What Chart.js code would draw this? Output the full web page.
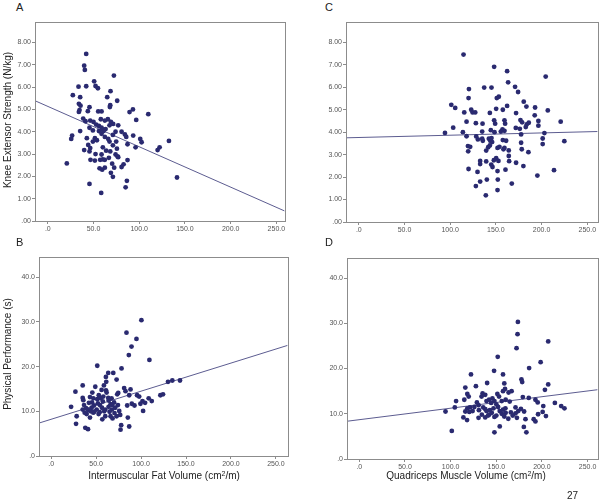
<!DOCTYPE html>
<html>
<head>
<meta charset="utf-8">
<script src="https://cdn.jsdelivr.net/npm/chart.js@4"></script>
<style>
  body { margin: 0; background: #fff; }
  #wrap { position: relative; width: 600px; height: 501px; overflow: hidden; font-family: "Liberation Sans", Arial, sans-serif; color: #222; }
  canvas { position: absolute; }
  .lbl { position: absolute; font-size: 10px; line-height: 12px; white-space: nowrap; }
  .letter { position: absolute; font-size: 11px; line-height: 12px; }
  .ytitle { position: absolute; font-size: 10px; line-height: 12px; width: 200px; height: 12px; text-align: center; transform: rotate(-90deg); white-space: nowrap; }
  .xtitle { position: absolute; font-size: 10px; line-height: 12px; width: 240px; text-align: center; white-space: nowrap; }
  sup { font-size: 7px; line-height: 0; vertical-align: 3px; }
</style>
</head>
<body>
<div id="wrap">
  <canvas id="chartA" width="287" height="222" style="left:0px;top:17px"></canvas>
  <canvas id="chartC" width="300" height="222" style="left:300px;top:17px"></canvas>
  <canvas id="chartB" width="290" height="220" style="left:0px;top:252px"></canvas>
  <canvas id="chartD" width="300" height="222" style="left:300px;top:253px"></canvas>

  <div class="letter" style="left:16px;top:1px">A</div>
  <div class="letter" style="left:325px;top:1px">C</div>
  <div class="letter" style="left:16px;top:236px">B</div>
  <div class="letter" style="left:325px;top:236px">D</div>

  <div class="ytitle" style="left:-92px;top:114px">Knee Extensor Strength (N/kg)</div>
  <div class="ytitle" style="left:-92px;top:348px">Physical Performance (s)</div>
  <div class="xtitle" style="left:44px;top:470px">Intermuscular Fat Volume (cm<sup>2</sup>/m)</div>
  <div class="xtitle" style="left:346px;top:470px">Quadriceps Muscle Volume (cm<sup>2</sup>/m)</div>
  <div class="lbl" style="left:567px;top:490px">27</div>
</div>

<script>
// tick values
const volTicks = [0, 50, 100, 150, 200, 250];
const strengthTicks = [0, 1, 2, 3, 4, 5, 6, 7, 8];
const perfTicks = [0, 10, 20, 30, 40];

// A: fat volume vs knee extensor strength
const fatA = [42,39.8,40.5,72.3,50.7,33.6,42,52.2,54.8,68.6,
  27.4,35.4,65,75.9,34,35.8,68.3,67.9,45.6,43.8,
  34.7,34,55.1,58.8,89.4,93.1,109.9,96.7,38.7,41.2,
  46.4,50,58,62.4,65.7,69,71.5,52.9,55.9,58.8,
  60.2,63.2,67.5,77,35.4,45.6,49.3,55.9,58.8,61,
  74.1,71.2,80.7,84.3,85.8,93.4,101.1,102.6,132.5,122.3,
  120.1,26.6,25.6,42.7,51.5,49.3,53.7,62.4,66.1,67.5,
  71.2,74.8,75.6,87.2,96,44.2,46.4,39.8,45.6,52.2,
  60.2,58.8,63.8,68.3,74.1,77,46.7,51.5,57.3,60.2,
  62.4,66.8,76.3,82.9,87.2,80.7,70.4,72.6,20.8,56.6,
  59.5,62.4,69,71.2,86.5,85.1,45.6,58.4,141.3];
const strengthA = [7.49,6.96,6.77,6.52,6.26,6.02,6.04,6.05,5.95,5.82,
  5.64,5.55,5.55,5.39,5.25,5.17,5.19,5.11,5.10,4.92,
  4.97,4.89,4.91,4.91,4.88,5.0,4.79,4.53,4.59,4.47,
  4.5,4.44,4.56,4.5,4.56,4.44,4.35,4.32,4.26,4.18,
  4.09,4.12,4.29,4.29,4.03,4.18,4.06,4.03,3.91,4.03,
  4.0,3.86,4.0,3.88,3.77,3.83,3.68,3.53,3.59,3.3,
  3.18,3.83,3.68,3.71,3.71,3.56,3.62,3.77,3.68,3.56,
  3.39,3.56,3.24,3.44,3.30,3.41,3.27,3.18,3.12,3.0,
  3.30,2.98,3.15,3.12,2.98,2.86,2.74,2.71,2.74,2.76,
  2.74,2.83,2.89,2.54,2.73,2.42,2.57,2.39,2.58,2.36,
  2.30,2.39,2.16,1.98,1.80,1.51,1.66,1.26,1.95];
const fitAX = [-14, 259];
const fitAY = [5.39, 0.45];

// C: muscle volume vs knee extensor strength
const muscleC = [114.6,148.1,162.3,204.5,163.4,120.5,137.2,145.2,171,174.3,
  120.1,151,153.2,101.2,105.5,115.4,123,124.5,127.4,143.4,
  150.3,157.6,162.3,172.1,180.5,183.4,192.9,206.8,192.5,176.9,
  178.7,183.8,186,196.5,196.5,220.9,103.3,117.9,128.1,135.4,
  148.1,149.2,159.4,160.1,157.2,159.4,155.4,148.5,144.5,135,
  113.9,94.3,171.8,176.2,182.7,177.6,203.1,201.2,201.2,224.9,
  117.9,128.5,130.3,135,135.7,142.3,143.8,145.2,145.9,157.6,
  161.2,143.4,141.6,151.8,153.9,158.3,164.1,159.4,177.6,178.3,
  185.6,119.4,121.9,119.7,139.4,150.3,147.8,152.8,164.1,164.5,
  172.1,132.8,132.8,139.4,144.9,146.3,151.8,160.5,180.1,120.1,
  129.9,195.4,213.6,132.8,128.1,140.1,152.1,167.4,151.8,139];
const strengthC = [7.46,6.91,6.72,6.48,6.22,5.92,5.99,5.99,6.02,5.79,
  5.52,5.52,5.58,5.22,5.08,4.88,5.0,4.88,4.88,4.86,
  5.04,5.0,5.17,4.85,5.36,5.14,5.10,4.97,4.75,4.54,
  4.44,4.35,4.42,4.50,4.29,4.47,4.20,4.47,4.40,4.38,
  4.53,4.38,4.53,4.38,4.12,4.06,4.03,4.0,4.09,4.03,
  4.0,3.97,4.19,4.15,4.23,3.90,3.96,3.72,3.47,3.60,
  3.82,3.81,3.68,3.71,3.62,3.71,3.62,3.74,3.56,3.65,
  3.62,3.41,3.33,3.30,3.35,3.24,3.19,3.30,3.53,3.24,
  3.11,3.38,3.35,3.15,3.18,2.84,2.75,2.72,2.94,2.71,
  2.64,2.72,2.58,2.70,2.56,2.45,2.27,2.33,2.49,2.36,
  2.23,2.07,2.31,1.80,1.60,1.89,1.89,1.71,1.42,1.19];
const fitCX = [-14, 261.3];
const fitCY = [3.75, 4.03];

// B: fat volume vs physical performance
const fatB = [100.4,83.8,94.9,89.4,86.4,109.3,51.3,63.5,69.1,78.3,
  60.9,72.8,61.3,58.7,35.1,27,49.1,56.1,61,61.7,
  130,134.8,143.3,81.2,82.7,88.3,74.6,73.5,45.8,35.1,
  35.8,43.2,46.9,51.3,55,63.5,67.2,86.8,95.6,97.9,
  108.5,121.5,124.4,22.2,36.6,38.8,41,45.1,47.6,50.6,
  54.3,56.5,60.2,63.9,66.1,67.6,71.3,74.3,75.7,76.8,
  72.8,84.6,89.7,92.7,99.3,102.3,101.6,104.5,111.9,39.5,
  43.2,46.9,52.8,56.9,60.2,66.1,68.3,85.3,28.4,27.7,
  86.8,38,41,77.9,77.2,35.1,37.3,45.5,52,57.5,
  64,70,48,54,59,65,70.5,42,53,58,
  68,44];
const perfB = [30.4,27.6,26.2,24.5,22.6,21.5,20.2,18.6,18.6,19.6,
  17.7,17.1,16.6,15.8,15.8,14.4,15.5,14.8,14.7,14.2,
  16.6,16.9,16.9,15.2,14.5,14.9,14.1,13.8,14.2,13.0,
  12.5,13.2,12.9,12.7,12.9,13.0,12.9,13.6,13.6,13.3,
  12.9,13.6,13.8,11.0,11.4,10.7,10.3,10.8,11.3,10.4,
  11.4,10.8,10.4,11.0,11.6,10.4,10.8,11.4,10.1,9.2,
  8.9,11.3,11.7,11.3,11.7,10.1,12.3,11.9,12.3,9.4,
  8.6,9.7,9.4,8.2,8.9,8.9,8.4,8.6,8.9,7.2,
  6.6,6.3,6.0,6.9,5.9,10.4,9.7,12.0,11.8,12.2,
  12.4,12.0,9.9,9.8,10.0,9.9,9.6,11.9,13.6,13.3,
  11.4,10.0];
const fitBX = [-13.5, 263];
const fitBY = [7.37, 24.76];

// D: muscle volume vs physical performance
const muscleD = [173.7,173.3,206.9,172.2,151.6,198.6,186,147.6,122.3,157.4,
  177.6,178.4,206.9,140,116.1,127.7,158.8,159.6,163.5,166.8,
  157.4,203.3,118.3,119.8,135,137.9,133.9,151.2,153,145.8,
  106,115,121.2,128.8,130.6,135.7,139.3,142.2,144.4,148,
  150.1,156,160.3,164.7,171.1,174.1,179.1,185.6,192.9,195.4,
  201.5,200.8,214.2,221.1,224.7,94.4,104.6,118.3,120.5,116.1,
  114,124.1,130.6,134.2,139.3,137.9,142.2,145.1,150.1,153.8,
  157.4,160.3,158.8,163.2,171.1,172.6,177,180.5,182,191,
  192.9,195.8,204.4,118,153.8,180.2,101.3,148,183,138,
  143,147,152,156,141,148,160,166,131,126,
  168];
const perfD = [30.3,27.6,26.0,24.5,22.6,21.4,20.1,19.5,18.7,18.7,
  17.6,17.0,16.5,16.8,15.8,16.1,16.7,15.5,14.7,15.0,
  15.0,15.3,14.4,13.8,14.5,14.2,13.8,14.4,13.8,13.4,
  12.8,13.1,11.4,12.5,11.9,11.4,12.8,13.1,12.4,12.8,
  12.1,12.8,13.1,12.7,11.4,10.6,13.7,13.5,13.1,12.5,
  11.7,10.4,12.4,11.7,11.2,10.5,11.4,11.2,10.4,10.5,
  9.2,10.6,9.1,9.8,10.6,9.2,9.8,10.2,9.6,10.6,
  10.9,10.2,9.4,8.9,10.1,9.1,11.1,10.5,8.8,8.8,
  8.3,9.9,9.5,8.6,7.2,7.1,6.2,5.9,5.9,11.0,
  10.8,11.2,11.5,10.0,9.6,9.3,11.2,10.3,10.8,11.5,
  9.6];
const fitDX = [-13.5, 261];
const fitDY = [8.35, 15.32];

const dotColor = '#2a2a70';
const lineColor = '#5c5c90';
const axisColor = '#8c8c8c';

// SPSS style labels: ".00", "1.00", ".0", "50.0"
function fmt(v, d) {
  let s = Number(v).toFixed(d);
  if (s.startsWith('0')) s = s.slice(1);
  return s;
}

const boxPlugin = {
  id: 'box',
  afterDraw(chart) {
    const a = chart.chartArea;
    const ctx = chart.ctx;
    ctx.save();
    ctx.strokeStyle = axisColor;
    ctx.lineWidth = 1;
    ctx.strokeRect(Math.round(a.left) + 0.5, Math.round(a.top) + 0.5,
      Math.round(a.right - a.left), Math.round(a.bottom - a.top));
    ctx.restore();
  }
};

function makePanel(id, xs, ys, fx, fy, o) {
  const pts = xs.map((x, i) => ({ x: x, y: ys[i] }));
  const fit = fx.map((x, i) => ({ x: x, y: fy[i] }));
  return new Chart(document.getElementById(id), {
    type: 'scatter',
    data: {
      datasets: [
        {
          data: pts,
          backgroundColor: dotColor,
          borderColor: dotColor,
          borderWidth: 0,
          pointRadius: 2.4,
          pointHoverRadius: 2.4
        },
        {
          data: fit,
          showLine: true,
          borderColor: lineColor,
          borderWidth: 1,
          pointRadius: 0,
          fill: false
        }
      ]
    },
    options: {
      responsive: false,
      animation: false,
      devicePixelRatio: 1,
      layout: { padding: o.pad },
      plugins: { legend: { display: false }, tooltip: { enabled: false } },
      scales: {
        x: {
          type: 'linear',
          min: o.xMin,
          max: o.xMax,
          afterBuildTicks: s => { s.ticks = volTicks.map(v => ({ value: v })); },
          afterFit: s => { s.height = o.xH; },
          grid: { drawOnChartArea: false, drawTicks: true, tickLength: 3, color: axisColor },
          border: { display: false },
          ticks: {
            padding: 1,
            maxRotation: 0,
            color: '#555',
            font: { family: 'Liberation Sans', size: 7 },
            callback: v => fmt(v, 1)
          }
        },
        y: {
          type: 'linear',
          min: 0,
          max: o.yMax,
          afterBuildTicks: s => { s.ticks = o.yTicks.map(v => ({ value: v })); },
          afterFit: s => { s.width = o.yW; },
          grid: { drawOnChartArea: false, drawTicks: true, tickLength: 3, color: axisColor },
          border: { display: false },
          ticks: {
            padding: 1,
            color: '#555',
            font: { family: 'Liberation Sans', size: 7 },
            callback: v => fmt(v, o.yDec)
          }
        }
      }
    },
    plugins: [boxPlugin]
  });
}

makePanel('chartA', fatA, strengthA, fitAX, fitAY, {
  xMin: -14, xMax: 259, yMax: 8.91, yTicks: strengthTicks, yDec: 2,
  yW: 35, xH: 18, pad: { top: 1, right: 2, left: 0, bottom: 0 }
});
makePanel('chartC', muscleC, strengthC, fitCX, fitCY, {
  xMin: -14, xMax: 261.3, yMax: 8.9, yTicks: strengthTicks, yDec: 2,
  yW: 46, xH: 17, pad: { top: 1, right: 2, left: 0, bottom: 0 }
});
makePanel('chartB', fatB, perfB, fitBX, fitBY, {
  xMin: -13.5, xMax: 263, yMax: 44.5, yTicks: perfTicks, yDec: 1,
  yW: 39, xH: 16, pad: { top: 1, right: 2, left: 0, bottom: 0 }
});
makePanel('chartD', muscleD, perfD, fitDX, fitDY, {
  xMin: -13.5, xMax: 261, yMax: 44.4, yTicks: perfTicks, yDec: 1,
  yW: 47, xH: 16, pad: { top: 1, right: 1, left: 0, bottom: 0 }
});
</script>
</body>
</html>
